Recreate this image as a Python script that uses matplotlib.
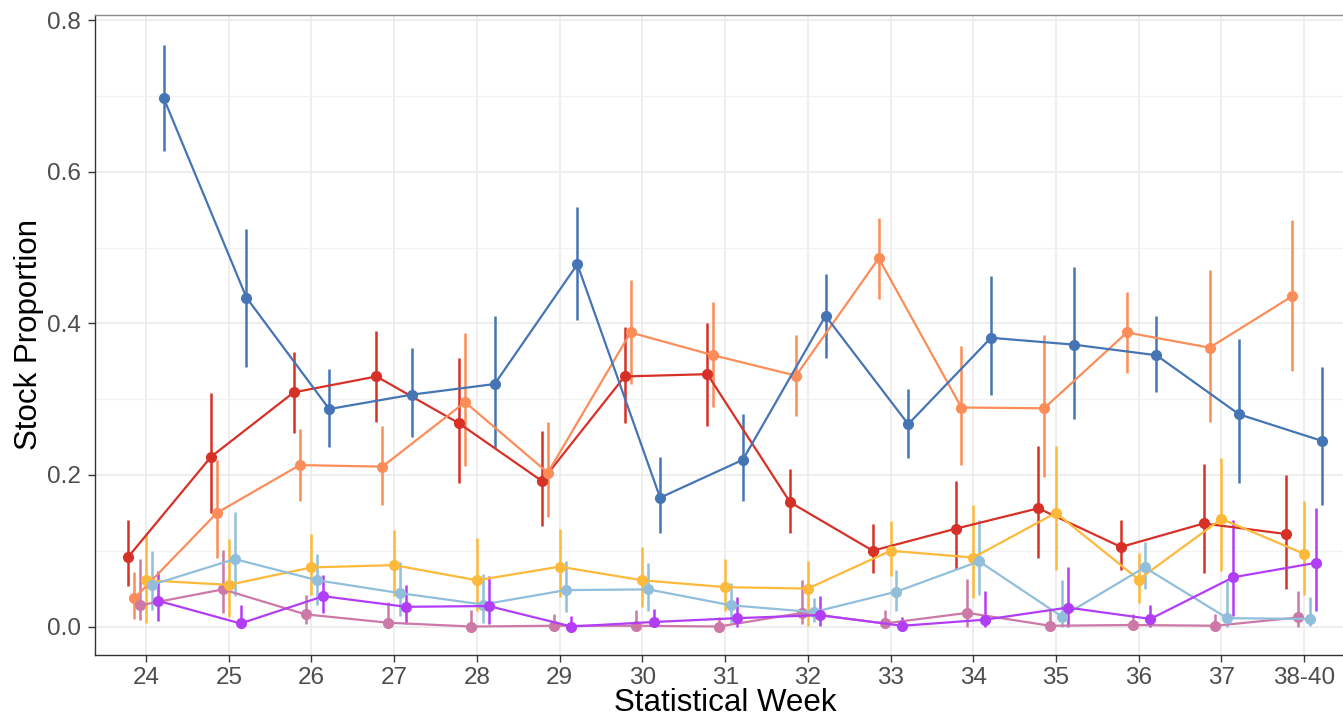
import numpy as np
import matplotlib
matplotlib.use("Agg")
import matplotlib.pyplot as plt
from matplotlib.ticker import MultipleLocator

# data
weeks = ["24", "25", "26", "27", "28", "29", "30", "31", "32", "33", "34", "35", "36", "37", "38-40"]

red = [0.092, 0.224, 0.309, 0.330, 0.268, 0.192, 0.330, 0.333, 0.164, 0.100, 0.129, 0.156, 0.105, 0.136, 0.122]
red_hi = [0.141, 0.308, 0.362, 0.390, 0.355, 0.258, 0.395, 0.400, 0.208, 0.135, 0.192, 0.238, 0.140, 0.215, 0.200]
red_lo = [0.053, 0.150, 0.256, 0.270, 0.190, 0.133, 0.268, 0.265, 0.124, 0.070, 0.076, 0.090, 0.075, 0.070, 0.050]

orange = [0.037, 0.150, 0.213, 0.211, 0.296, 0.203, 0.388, 0.358, 0.331, 0.486, 0.289, 0.288, 0.388, 0.368, 0.436]
orange_hi = [0.072, 0.220, 0.260, 0.265, 0.387, 0.270, 0.457, 0.428, 0.385, 0.539, 0.370, 0.385, 0.441, 0.470, 0.537]
orange_lo = [0.010, 0.090, 0.165, 0.160, 0.212, 0.145, 0.320, 0.290, 0.278, 0.432, 0.213, 0.197, 0.335, 0.270, 0.337]

pink = [0.028, 0.049, 0.016, 0.005, 0.000, 0.001, 0.001, 0.000, 0.018, 0.004, 0.018, 0.001, 0.002, 0.001, 0.012]
pink_hi = [0.089, 0.101, 0.041, 0.032, 0.022, 0.017, 0.022, 0.013, 0.062, 0.022, 0.063, 0.022, 0.017, 0.017, 0.047]
pink_lo = [0.008, 0.018, 0.003, 0.000, 0.000, 0.000, 0.000, 0.000, 0.003, 0.000, 0.000, 0.000, 0.000, 0.000, 0.000]

yellow = [0.061, 0.055, 0.078, 0.081, 0.061, 0.079, 0.061, 0.052, 0.050, 0.100, 0.091, 0.150, 0.062, 0.142, 0.096]
yellow_hi = [0.123, 0.116, 0.122, 0.128, 0.117, 0.129, 0.105, 0.089, 0.087, 0.139, 0.160, 0.238, 0.097, 0.222, 0.165]
yellow_lo = [0.004, 0.013, 0.041, 0.040, 0.021, 0.039, 0.026, 0.021, 0.001, 0.066, 0.037, 0.074, 0.031, 0.073, 0.041]

ltblue = [0.055, 0.089, 0.061, 0.044, 0.029, 0.048, 0.049, 0.028, 0.019, 0.046, 0.086, 0.013, 0.078, 0.011, 0.010]
ltblue_hi = [0.099, 0.151, 0.096, 0.085, 0.069, 0.087, 0.084, 0.058, 0.037, 0.074, 0.141, 0.061, 0.111, 0.060, 0.039]
ltblue_lo = [0.022, 0.040, 0.029, 0.014, 0.005, 0.019, 0.021, 0.004, 0.006, 0.021, 0.041, 0.000, 0.050, 0.000, 0.001]

purple = [0.034, 0.004, 0.040, 0.026, 0.027, 0.000, 0.006, 0.011, 0.015, 0.001, 0.009, 0.025, 0.010, 0.065, 0.084]
purple_hi = [0.073, 0.029, 0.068, 0.055, 0.067, 0.014, 0.023, 0.039, 0.040, 0.012, 0.047, 0.078, 0.028, 0.141, 0.157]
purple_lo = [0.007, 0.000, 0.018, 0.003, 0.003, 0.000, 0.000, 0.000, 0.001, 0.000, 0.000, 0.000, 0.000, 0.014, 0.021]

blue = [0.697, 0.434, 0.287, 0.306, 0.320, 0.478, 0.170, 0.220, 0.410, 0.267, 0.381, 0.372, 0.358, 0.280, 0.245]
blue_hi = [0.767, 0.525, 0.340, 0.367, 0.410, 0.553, 0.224, 0.280, 0.465, 0.313, 0.462, 0.475, 0.410, 0.380, 0.342]
blue_lo = [0.628, 0.342, 0.237, 0.250, 0.236, 0.405, 0.124, 0.166, 0.355, 0.222, 0.305, 0.274, 0.310, 0.190, 0.160]

# dodge order left -> right
series = [
    (red, red_lo, red_hi, "#D73027"),
    (orange, orange_lo, orange_hi, "#FC8D59"),
    (pink, pink_lo, pink_hi, "#CC79A7"),
    (yellow, yellow_lo, yellow_hi, "#FDB93A"),
    (ltblue, ltblue_lo, ltblue_hi, "#91BFDB"),
    (purple, purple_lo, purple_hi, "#B23DF7"),
    (blue, blue_lo, blue_hi, "#4575B4"),
]

plt.rcParams["font.family"] = ["Liberation Sans", "DejaVu Sans"]

fig = plt.figure(figsize=(13.43, 7.19), dpi=100)
ax = fig.add_axes([95 / 1343, 1 - 655 / 719, 1 - 95 / 1343, (655 - 15) / 719])

x = np.arange(len(weeks))
n = len(series)
dodge = 0.5
for i, (y, lo, hi, col) in enumerate(series):
    xs = x + (i - (n - 1) / 2) * dodge / n
    ax.vlines(xs, lo, hi, color=col, lw=1.8, zorder=3)
    ax.plot(xs, y, color=col, lw=1.6, marker="o", ms=7, zorder=4)

ax.set_xlim(-0.617, 14.47)
ax.set_ylim(-0.0376, 0.807)
ax.set_xticks(x)
ax.set_xticklabels(weeks)
ax.yaxis.set_minor_locator(MultipleLocator(0.1))
ax.set_yticks(np.arange(0, 0.81, 0.2))
ax.set_yticklabels(["0.0", "0.2", "0.4", "0.6", "0.8"])

ax.grid(True, which="major", color="#EBEBEB", lw=1.2, zorder=0)
ax.grid(True, which="minor", axis="y", color="#F2F2F2", lw=1.0, zorder=0)
ax.tick_params(which="minor", length=0)
ax.tick_params(which="major", length=5, width=1, color="#333333",
               labelsize=17.5, labelcolor="#4D4D4D")
ax.tick_params(axis="y", pad=5)
ax.tick_params(axis="x", pad=4)

for side in ["left", "bottom"]:
    ax.spines[side].set_color("#333333")
    ax.spines[side].set_linewidth(1.0)
ax.spines["top"].set_color("#8C8C8C")
ax.spines["top"].set_linewidth(1.0)
ax.spines["right"].set_visible(False)

ax.set_xlabel("Statistical Week", fontsize=22.5, color="black")
ax.xaxis.set_label_coords((725 - 95) / 1248, -(711 - 655) / 640, transform=ax.transAxes)
ax.xaxis.label.set_va("baseline")
ax.set_ylabel("Stock Proportion", fontsize=22.5, color="black", labelpad=2)

fig.savefig("out.png", dpi=100)
